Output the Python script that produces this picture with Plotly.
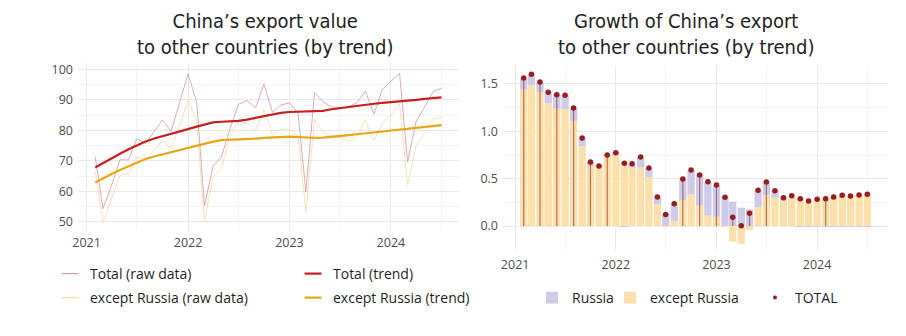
import pandas as pd
import plotly.graph_objects as go

# ---------------- data ----------------
months = pd.date_range("2021-02-01", periods=42, freq="MS")
year_ticks = ["2021", "2022", "2023", "2024"]
year_dates = ["2021-01-01", "2022-01-01", "2023-01-01", "2024-01-01"]

total_raw = [71.3, 54.3, 62.0, 70.3, 70.3, 77.3, 75.7, 79.5, 83.4, 79.7, 88.8, 98.5,
             89.4, 55.2, 68.3, 71.3, 80.5, 88.5, 89.8, 87.4, 95.1, 85.9, 88.3, 89.0,
             85.5, 59.8, 92.4, 89.4, 87.7, 87.4, 87.7, 89.0, 92.9, 85.2, 93.4, 96.2,
             98.7, 69.7, 83.0, 87.7, 92.7, 93.8]
exc_raw = [66.5, 49.7, 57.5, 65.3, 65.5, 71.3, 70.2, 73.5, 76.8, 74.0, 81.2, 90.0,
           82.8, 50.0, 64.8, 67.5, 77.9, 82.8, 82.5, 79.7, 86.9, 78.4, 80.4, 80.4,
           77.9, 53.0, 83.7, 79.5, 77.9, 77.7, 76.5, 77.9, 83.3, 76.6, 82.3, 85.0,
           88.8, 62.0, 75.2, 79.0, 83.9, 84.1]
total_trend = [67.8, 69.3, 70.8, 72.3, 73.8, 75.1, 76.3, 77.3, 78.0, 78.8, 79.6, 80.4,
               81.2, 81.9, 82.6, 82.8, 82.9, 83.1, 83.5, 84.1, 84.7, 85.2, 85.7, 86.0,
               86.1, 86.2, 86.3, 86.4, 86.9, 87.3, 87.7, 88.1, 88.4, 88.7, 89.0, 89.2,
               89.4, 89.7, 90.0, 90.3, 90.6, 90.8]
exc_trend = [62.9, 64.3, 65.7, 67.0, 68.3, 69.5, 70.6, 71.4, 72.1, 72.8, 73.5, 74.2,
             74.9, 75.6, 76.3, 76.8, 76.9, 76.9, 77.1, 77.3, 77.5, 77.7, 77.8, 77.9,
             77.8, 77.6, 77.5, 77.6, 77.8, 78.1, 78.4, 78.7, 79.0, 79.3, 79.6, 79.9,
             80.2, 80.5, 80.8, 81.1, 81.4, 81.7]

growth_russia = [0.12, 0.11, 0.105, 0.115, 0.147, 0.145, 0.137, 0.088, 0.05, 0.01, 0.005, 0.005,
                 -0.01, 0.04, 0.11, 0.10, 0.074, 0.123, 0.183, 0.22, 0.257, 0.324, 0.359, 0.334,
                 0.313, 0.257, 0.194, 0.174, 0.18, 0.138, 0.073, 0.031, 0.0, -0.003, -0.002, -0.002,
                 -0.003, -0.004, -0.002, -0.003, -0.003, -0.002]
growth_exc = [1.44, 1.49, 1.415, 1.296, 1.24, 1.236, 1.109, 0.842, 0.627, 0.625, 0.745, 0.77,
              0.67, 0.62, 0.62, 0.514, 0.232, 0.003, 0.053, 0.275, 0.335, 0.215, 0.109, 0.099,
              -0.01, -0.165, -0.19, -0.04, 0.197, 0.327, 0.30, 0.268, 0.32, 0.292, 0.266, 0.284,
              0.292, 0.31, 0.326, 0.32, 0.33, 0.337]
growth_total = [1.563, 1.602, 1.521, 1.412, 1.387, 1.380, 1.246, 0.930, 0.676, 0.634, 0.750, 0.775,
                0.662, 0.658, 0.729, 0.613, 0.306, 0.123, 0.236, 0.496, 0.592, 0.539, 0.468, 0.433,
                0.303, 0.092, 0.004, 0.134, 0.377, 0.465, 0.373, 0.299, 0.320, 0.289, 0.264, 0.282,
                0.289, 0.306, 0.324, 0.317, 0.327, 0.335]
# bars whose 0-to-total stem is visible in the picture
stem_idx = [0, 2, 4, 6, 8, 10, 19, 21, 23, 25, 27, 29, 36]

# ---------------- styles ----------------
PINK = "rgba(214,140,158,0.75)"
PALE = "rgba(241,214,160,0.75)"
RED = "#c81e1e"
GOLD = "#e9a514"
LAV = "#cdcaea"
PEACH = "#fddfa9"
DOT = "#9b1c1c"
TICK = "#4d4d4d"
TXT = "#1f1f1f"
FONT = "Open Sans, Liberation Sans, sans-serif"
TFONT = "Liberation Sans Narrow, DejaVu Sans Condensed, Open Sans, sans-serif"
W, H = 906, 336

def px_x(p):
    return p / W

def px_y(p):
    return 1 - p / H

fig = go.Figure()

# ---------- left panel ----------
fig.add_trace(go.Scatter(x=months, y=total_raw, mode="lines", line=dict(color=PINK, width=1),
                         showlegend=False, xaxis="x", yaxis="y", hoverinfo="skip"))
fig.add_trace(go.Scatter(x=months, y=exc_raw, mode="lines", line=dict(color=PALE, width=1),
                         showlegend=False, xaxis="x", yaxis="y", hoverinfo="skip"))
fig.add_trace(go.Scatter(x=months, y=exc_trend, mode="lines", line=dict(color=GOLD, width=2.2),
                         showlegend=False, xaxis="x", yaxis="y"))
fig.add_trace(go.Scatter(x=months, y=total_trend, mode="lines", line=dict(color=RED, width=2.2),
                         showlegend=False, xaxis="x", yaxis="y"))

# ---------- right panel ----------
bw = 26.5 * 86400000
fig.add_trace(go.Bar(x=months, y=growth_exc, marker=dict(color=PEACH, line=dict(width=0)),
                     width=bw, showlegend=False, xaxis="x2", yaxis="y2"))
fig.add_trace(go.Bar(x=months, y=growth_russia, marker=dict(color=LAV, line=dict(width=0)),
                     width=bw, showlegend=False, xaxis="x2", yaxis="y2"))
sx, sy = [], []
for i in stem_idx:
    sx += [months[i], months[i], None]
    sy += [0, growth_total[i], None]
fig.add_trace(go.Scatter(x=sx, y=sy, mode="lines", line=dict(color="rgba(150,40,30,0.6)", width=1.2),
                         showlegend=False, xaxis="x2", yaxis="y2", hoverinfo="skip"))
fig.add_trace(go.Scatter(x=months, y=growth_total, mode="markers",
                         marker=dict(color=DOT, size=5.5), showlegend=False, xaxis="x2", yaxis="y2"))

# ---------- legend-only entries ----------
def leg_line(name, color, width, legend):
    fig.add_trace(go.Scatter(x=[None], y=[None], mode="markers", name=name, legend=legend,
                             marker=dict(symbol="line-ew", size=12, color=color,
                                         line=dict(color=color, width=width)),
                             xaxis="x", yaxis="y"))

leg_line("Total (raw data)", "rgba(220,140,160,0.9)", 1.2, "legend")
leg_line("Total (trend)", RED, 2.2, "legend2")
leg_line("except Russia (raw data)", "rgba(241,214,160,0.9)", 1.2, "legend3")
leg_line("except Russia (trend)", GOLD, 2.2, "legend4")
fig.add_trace(go.Bar(x=[None], y=[None], name="Russia", legend="legend5",
                     marker=dict(color=LAV), xaxis="x2", yaxis="y2"))
fig.add_trace(go.Bar(x=[None], y=[None], name="except Russia", legend="legend6",
                     marker=dict(color=PEACH), xaxis="x2", yaxis="y2"))
fig.add_trace(go.Scatter(x=[None], y=[None], mode="markers", name="TOTAL", legend="legend7",
                         marker=dict(color=DOT, size=4), xaxis="x2", yaxis="y2"))

def leg(text_x, y):
    return dict(x=px_x(text_x - 40), y=px_y(y), xanchor="left", yanchor="middle",
                bgcolor="rgba(0,0,0,0)", borderwidth=0,
                font=dict(family=FONT, size=14, color=TXT), itemclick=False)

grid_major = "#e9e9e9"
grid_minor = "#f3f3f3"

def xax(domain, rng, anchor, standoff):
    return dict(domain=domain, range=rng, anchor=anchor, type="date", automargin=False,
                tickmode="array", tickvals=year_dates, ticktext=year_ticks,
                showgrid=True, gridcolor=grid_major, gridwidth=1.2,
                minor=dict(tick0="2021-01-01", dtick="M6", showgrid=True, gridcolor=grid_minor, gridwidth=1),
                zeroline=False, showline=False, ticks="", ticklabelstandoff=standoff,
                tickfont=dict(family=FONT, size=12.5, color=TICK))

def yax(domain, rng, anchor, tickvals, fmt, minor_dtick):
    return dict(domain=domain, range=rng, anchor=anchor, tickmode="array", tickvals=tickvals,
                tickformat=fmt, showgrid=True, gridcolor=grid_major, gridwidth=1.2, automargin=False,
                minor=dict(dtick=minor_dtick, showgrid=True, gridcolor=grid_minor, gridwidth=1),
                zeroline=False, showline=False, ticks="", ticklabelstandoff=4,
                tickfont=dict(family=FONT, size=12.5, color=TICK))

fig.update_layout(
    template="none",
    width=W, height=H, margin=dict(l=0, r=0, t=0, b=0, autoexpand=False),
    paper_bgcolor="white", plot_bgcolor="white",
    barmode="relative",
    xaxis=xax([px_x(78), px_x(459)], ["2020-12-01", "2024-09-02"], "y", 3),
    yaxis=yax([px_y(230), px_y(63)], [47.3, 102.07], "x", [50, 60, 70, 80, 90, 100], "d", 5),
    xaxis2=xax([px_x(503), px_x(888)], ["2020-11-18", "2024-09-14"], "y2", 5),
    yaxis2=yax([px_y(250), px_y(66)], [-0.253, 1.69], "x2", [0, 0.5, 1.0, 1.5], ".1f", 0.25),
    legend=leg(90, 274), legend2=leg(333, 274), legend3=leg(90, 298), legend4=leg(333, 298),
    legend5=leg(572, 298), legend6=leg(650, 298), legend7=leg(795, 298),
    annotations=[
        dict(text="China’s export value<br>to other countries (by trend)", x=px_x(265), y=px_y(34),
             xref="paper", yref="paper", xanchor="center", yanchor="middle", showarrow=False,
             font=dict(family=TFONT, size=20, color="#222222")),
        dict(text="Growth of China’s export<br>to other countries (by trend)", x=px_x(686), y=px_y(34),
             xref="paper", yref="paper", xanchor="center", yanchor="middle", showarrow=False,
             font=dict(family=TFONT, size=20, color="#222222")),
    ],
)

fig.write_html("out.html")
